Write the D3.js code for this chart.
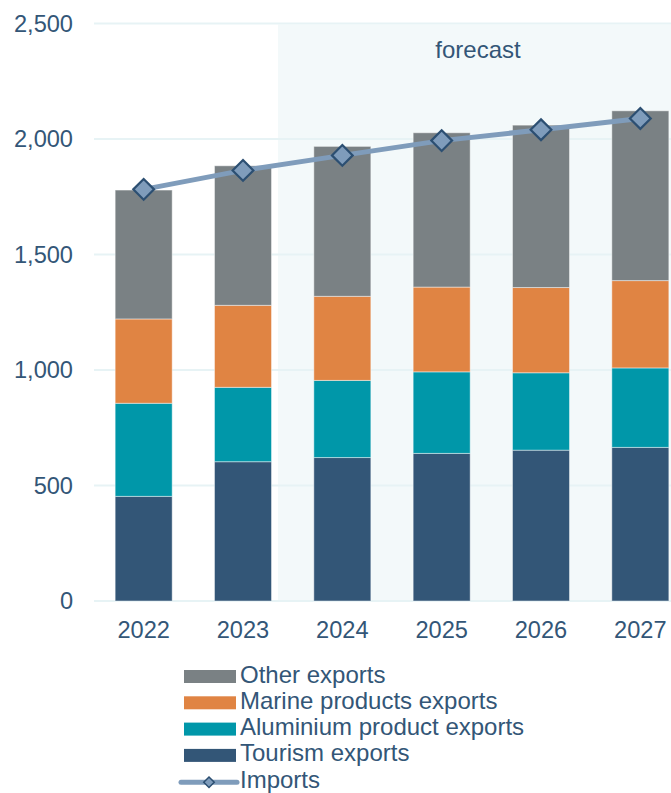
<!DOCTYPE html>
<html>
<head>
<meta charset="utf-8">
<script src="https://cdn.jsdelivr.net/npm/d3@7"></script>
<style>
  html, body { margin: 0; padding: 0; background: #ffffff; }
  svg { display: block; font-family: "Liberation Sans", Arial, sans-serif; }
</style>
</head>
<body>
<svg id="chart" width="671" height="793"></svg>
<script>
// Years on the category axis; 2024 onward are projections
const years = ["2022", "2023", "2024", "2025", "2026", "2027"];
const firstForecastYear = "2024";

// Export components (stacked bottom to top)
const tourismExports   = [453, 603, 621, 639, 653, 665];
const aluminiumExports = [403, 322, 334, 353, 335, 344];
const marineExports    = [365, 355, 364, 367, 369, 378];
const otherExports     = [558, 604, 649, 668, 703, 735];

// Imports line
const imports = [1782, 1864, 1929, 1993, 2040, 2089];

const yTicks = [0, 500, 1000, 1500, 2000, 2500];

const seriesNames  = ["Tourism exports", "Aluminium product exports", "Marine products exports", "Other exports"];
const seriesColors = ["#335677", "#0097a9", "#e08443", "#7a8184"];
const seriesValues = [tourismExports, aluminiumExports, marineExports, otherExports];

const textColor = "#335677";
const svg = d3.select("#chart");

const x = d3.scaleBand().domain(years).range([94, 690]).paddingInner(0.426).paddingOuter(0.213);
const y = d3.scaleLinear().domain([0, 2500]).range([601, 23.5]);

// Stack table built from the series arrays
const rows = years.map((yr, i) => {
  const r = { year: yr };
  seriesNames.forEach((n, k) => { r[n] = seriesValues[k][i]; });
  return r;
});
const stacked = d3.stack().keys(seriesNames)(rows);

// Forecast background panel
const shadeX = x(firstForecastYear) - x.step() * 0.36;
svg.append("rect")
  .attr("x", shadeX)
  .attr("y", y(2500) + 1)
  .attr("width", 700 - shadeX)
  .attr("height", y(0) - y(2500) - 1)
  .attr("fill", "#f3f9fa");

svg.append("text")
  .attr("x", 478)
  .attr("y", 58)
  .attr("text-anchor", "middle")
  .attr("font-size", 24)
  .attr("fill", textColor)
  .text("forecast");

// Horizontal gridlines
svg.append("g")
  .selectAll("line")
  .data(yTicks)
  .join("line")
  .attr("x1", 94)
  .attr("x2", 700)
  .attr("y1", d => y(d))
  .attr("y2", d => y(d))
  .attr("stroke", "#e7f3f5")
  .attr("stroke-width", 2);

// Y axis labels
const yAxis = d3.axisLeft(y).tickValues(yTicks).tickFormat(d3.format(",")).tickSize(0).tickPadding(0);
const yg = svg.append("g").attr("transform", "translate(73,0)").call(yAxis);
yg.select(".domain").remove();
yg.selectAll("text").attr("font-size", 23.6).attr("fill", textColor)
  .attr("font-family", "Liberation Sans, Arial, sans-serif");

// X axis labels
const xAxis = d3.axisBottom(x).tickSize(0).tickPadding(0);
const xg = svg.append("g").attr("transform", "translate(0,621)").call(xAxis);
xg.select(".domain").remove();
xg.selectAll("text").attr("font-size", 23.6).attr("fill", textColor)
  .attr("font-family", "Liberation Sans, Arial, sans-serif")
  .attr("dy", "0.71em");

// Stacked bars
svg.append("g")
  .selectAll("g")
  .data(stacked)
  .join("g")
  .attr("fill", (d, k) => seriesColors[k])
  .selectAll("rect")
  .data(d => d)
  .join("rect")
  .attr("x", d => x(d.data.year))
  .attr("width", x.bandwidth())
  .attr("y", d => y(d[1]))
  .attr("height", d => y(d[0]) - y(d[1]))
  .attr("stroke", "rgba(255,255,255,0.45)")
  .attr("stroke-width", 1);

// Imports line with diamond markers
const line = d3.line()
  .x((d, i) => x(years[i]) + x.bandwidth() / 2)
  .y(d => y(d));

svg.append("path")
  .datum(imports)
  .attr("d", line)
  .attr("fill", "none")
  .attr("stroke", "#7f9cbb")
  .attr("stroke-width", 5);

const diamond = d3.symbol().type(d3.symbolDiamond2).size(275);
svg.append("g")
  .selectAll("path")
  .data(imports)
  .join("path")
  .attr("transform", (d, i) => `translate(${x(years[i]) + x.bandwidth() / 2},${y(d)})`)
  .attr("d", diamond)
  .attr("fill", "#7f9cbb")
  .attr("stroke", "#2c4f72")
  .attr("stroke-width", 2.2);

// Legend
const legendItems = [
  { name: "Other exports", color: "#7a8184", type: "bar" },
  { name: "Marine products exports", color: "#e08443", type: "bar" },
  { name: "Aluminium product exports", color: "#0097a9", type: "bar" },
  { name: "Tourism exports", color: "#335677", type: "bar" },
  { name: "Imports", color: "#7f9cbb", type: "line" }
];
const legend = svg.append("g");
legendItems.forEach((item, i) => {
  const base = 682.5 + i * 26.3;
  const g = legend.append("g");
  if (item.type === "bar") {
    g.append("rect")
      .attr("x", 184).attr("y", base - 12.5).attr("width", 52).attr("height", 13)
      .attr("fill", item.color);
  } else {
    g.append("line")
      .attr("x1", 181).attr("x2", 237).attr("y1", base - 5.5).attr("y2", base - 5.5)
      .attr("stroke", item.color).attr("stroke-width", 5).attr("stroke-linecap", "round");
    g.append("path")
      .attr("transform", `translate(209,${base - 5.5})`)
      .attr("d", d3.symbol().type(d3.symbolDiamond2).size(70)())
      .attr("fill", item.color)
      .attr("stroke", "#2c4f72")
      .attr("stroke-width", 1.5);
  }
  g.append("text")
    .attr("x", 240).attr("y", base)
    .attr("font-size", 24)
    .attr("fill", textColor)
    .text(item.name);
});
</script>
</body>
</html>
